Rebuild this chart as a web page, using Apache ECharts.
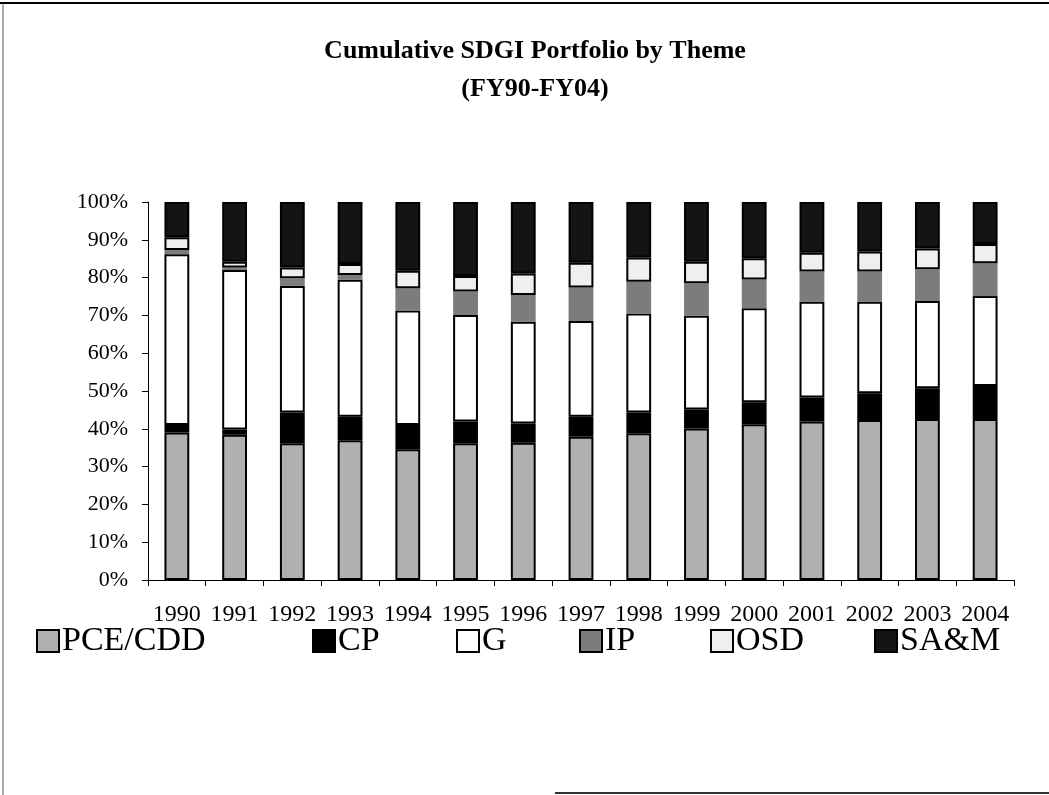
<!DOCTYPE html>
<html>
<head>
<meta charset="utf-8">
<script src="https://cdn.jsdelivr.net/npm/echarts@6/dist/echarts.min.js"></script>
<style>html,body{margin:0;padding:0;background:#fff}#c{width:1049px;height:795px}</style>
</head>
<body>
<div id="c"></div>
<script>
const years = ['1990','1991','1992','1993','1994','1995','1996','1997','1998','1999','2000','2001','2002','2003','2004'];
const seriesNames = ['PCE/CDD','CP','G','IP','OSD','SA&M'];
const pceCdd = [39.0, 38.4, 36.2, 37.0, 34.6, 36.2, 36.3, 37.9, 38.8, 40.1, 41.2, 41.9, 42.3, 42.6, 42.6];
const cp     = [2.0, 1.4, 8.1, 6.2, 6.4, 5.7, 5.1, 5.3, 5.5, 5.0, 5.8, 6.4, 7.1, 8.1, 8.7];
const g      = [45.2, 42.2, 33.5, 36.2, 30.3, 28.2, 26.9, 25.3, 26.2, 24.8, 24.9, 25.3, 24.2, 23.1, 23.8];
const ip     = [1.1, 0.7, 2.0, 1.3, 5.9, 6.2, 7.1, 8.9, 8.4, 8.6, 7.6, 8.0, 8.0, 8.4, 8.7];
const osd    = [3.4, 1.5, 2.9, 2.9, 4.6, 4.1, 5.7, 6.5, 6.4, 5.7, 5.6, 5.0, 5.3, 5.5, 5.1];
const sam    = [9.3, 15.8, 17.3, 16.4, 18.2, 19.6, 18.9, 16.1, 14.7, 15.8, 14.9, 13.4, 13.1, 12.3, 11.1];
const yTickLabels = ['0%','10%','20%','30%','40%','50%','60%','70%','80%','90%','100%'];

const dataSets = [pceCdd, cp, g, ip, osd, sam];
const colors = ['#b0b0b0', '#000000', '#ffffff', '#7c7c7c', '#efefef', '#141414'];
const borderWidths = [2, 2, 2, 0, 2, 2];
const legendLeft = [36, 312, 456, 579, 710, 874];

const chart = echarts.init(document.getElementById('c'), null, {renderer: 'canvas'});
const font = '"Liberation Serif", "Times New Roman", serif';

const series = seriesNames.map((name, i) => ({
  name: name,
  type: 'bar',
  stack: 'total',
  barWidth: '43%',
  data: dataSets[i],
  itemStyle: { color: colors[i], borderColor: '#000', borderWidth: borderWidths[i] },
  emphasis: { disabled: true }
}));

const legends = seriesNames.map((name, i) => ({
  data: [{ name: name, itemStyle: { borderColor: '#000', borderWidth: 2 } }],
  left: legendLeft[i],
  top: 624,
  orient: 'horizontal',
  itemWidth: 22,
  itemHeight: 22,
  itemGap: 4,
  padding: 0,
  icon: 'rect',
  selectedMode: false,
  textStyle: { fontFamily: font, fontSize: 34, color: '#000', padding: [0, 0, 0, -2] }
}));

chart.setOption({
  animation: false,
  backgroundColor: '#fff',
  title: {
    text: 'Cumulative SDGI Portfolio by Theme\n(FY90-FY04)',
    left: 530,
    textAlign: 'center',
    top: 27,
    textStyle: { fontFamily: font, fontSize: 26, fontWeight: 'bold', color: '#000', lineHeight: 38 }
  },
  legend: legends,
  grid: { left: 148, right: 35, top: 202, bottom: 215, containLabel: false },
  xAxis: {
    type: 'category',
    data: years,
    axisLine: { lineStyle: { color: '#000', width: 1 } },
    axisTick: { show: true, length: 6, lineStyle: { color: '#000' } },
    axisLabel: { fontFamily: font, fontSize: 24, color: '#000', margin: 23, interval: 0 }
  },
  yAxis: {
    type: 'value',
    min: 0,
    max: 100,
    interval: 10,
    axisLine: { show: true, lineStyle: { color: '#000', width: 1 } },
    axisTick: { show: true, length: 6, lineStyle: { color: '#000' } },
    splitLine: { show: false },
    axisLabel: {
      fontFamily: font, fontSize: 22, color: '#000', margin: 20,
      formatter: function (v) { return yTickLabels[Math.round(v / 10)]; }
    }
  },
  series: series,
  graphic: [
    { type: 'line', shape: { x1: 0, y1: 3, x2: 1049, y2: 3 }, style: { stroke: '#000', lineWidth: 2 } },
    { type: 'line', shape: { x1: 3, y1: 3, x2: 3, y2: 795 }, style: { stroke: '#555', lineWidth: 1 } },
    { type: 'line', shape: { x1: 555, y1: 793, x2: 1049, y2: 793 }, style: { stroke: '#333', lineWidth: 2 } }
  ]
});
</script>
</body>
</html>
